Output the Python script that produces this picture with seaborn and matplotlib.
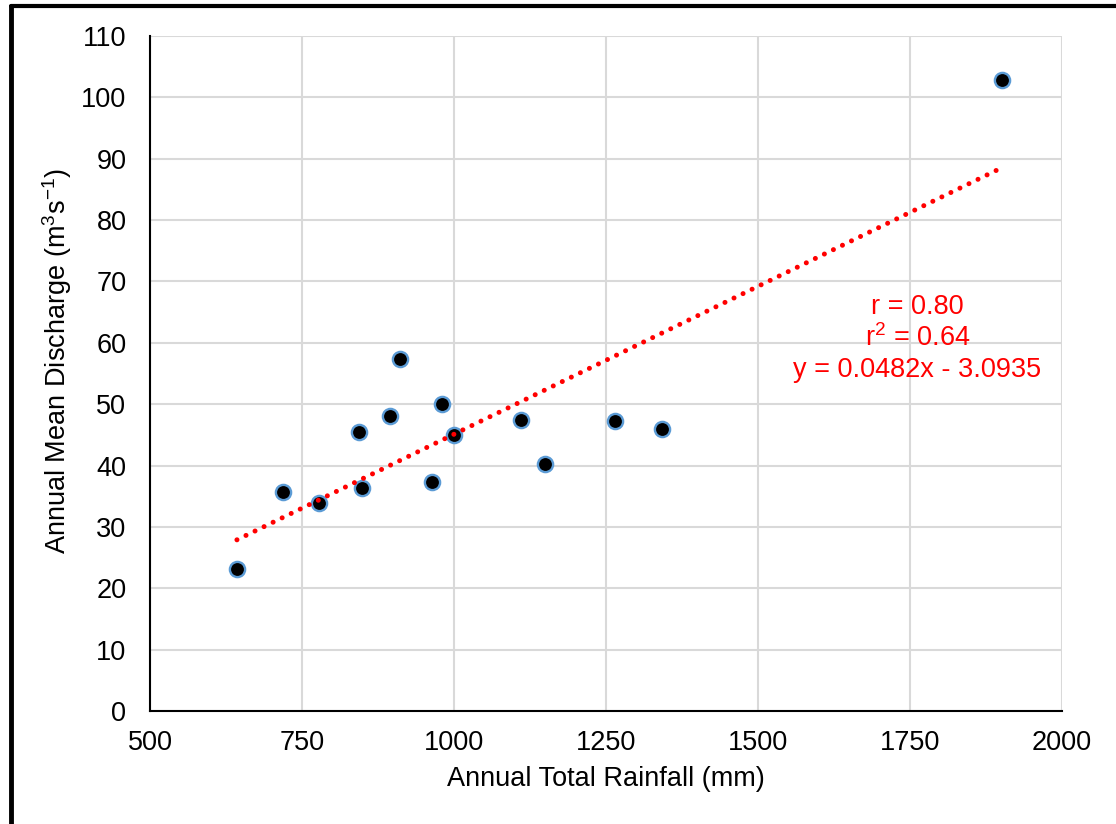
import numpy as np
import pandas as pd
import matplotlib
matplotlib.use("Agg")
import matplotlib.pyplot as plt
from matplotlib.lines import Line2D
import seaborn as sns

rainfall = [643, 718, 778, 844, 848, 895, 912, 964, 981, 1000,
            1110, 1150, 1265, 1342, 1901]
discharge = [23.2, 35.7, 33.9, 45.5, 36.4, 48.0, 57.4, 37.3, 50.1, 44.9,
             47.4, 40.3, 47.3, 46.0, 102.8]

slope = 0.0482
intercept = -3.0935
r_value = 0.80
r2_value = 0.64

x_ticks = [500, 750, 1000, 1250, 1500, 1750, 2000]
y_ticks = list(range(0, 111, 10))

df = pd.DataFrame({"rainfall": rainfall, "discharge": discharge})

sns.set_theme(style="white")
plt.rcParams["font.family"] = ["Liberation Sans", "DejaVu Sans"]
plt.rcParams["mathtext.fontset"] = "custom"
plt.rcParams["mathtext.rm"] = "Liberation Sans"
plt.rcParams["mathtext.default"] = "regular"

FS = 19.5

fig = plt.figure(figsize=(11.16, 8.24), dpi=100)
ax = fig.add_axes([0.1344, 0.1371, 0.9516 - 0.1344, 0.9563 - 0.1371])

ax.set_xlim(500, 2000)
ax.set_ylim(0, 110)
ax.set_xticks(x_ticks)
ax.set_yticks(y_ticks)
ax.grid(True, color="#d9d9d9", linewidth=1.5)
ax.set_axisbelow(True)

# trend line over data range
xs = np.array([min(rainfall), max(rainfall)])
ax.plot(xs, slope * xs + intercept, color="red", linewidth=3.6,
        linestyle=(0, (0.01, 2.0)), dash_capstyle="round", zorder=3)

sns.scatterplot(data=df, x="rainfall", y="discharge", ax=ax, s=120,
                color="black", edgecolor="#5b9bd5", linewidth=1.7, zorder=2)

for side in ["top", "right"]:
    ax.spines[side].set_visible(False)
for side in ["left", "bottom"]:
    ax.spines[side].set_color("black")
    ax.spines[side].set_linewidth(1.5)

ax.tick_params(axis="y", labelsize=FS, colors="black", length=0, pad=17)
ax.tick_params(axis="x", labelsize=FS, colors="black", length=0, pad=14)
ax.set_xlabel("Annual Total Rainfall (mm)", fontsize=FS, color="black", labelpad=7)
ax.set_ylabel("Annual Mean Discharge (m$^{3}$s$^{-1}$)", fontsize=FS,
              color="black")
ax.yaxis.set_label_coords(-0.083, 0.519)

tx = 1762
ax.text(tx, 65.8, f"r = {r_value:.2f}", color="red", fontsize=FS,
        ha="center", va="center")
ax.text(tx, 60.8, f"r$^{{2}}$ = {r2_value:.2f}", color="red", fontsize=FS,
        ha="center", va="center")
ax.text(tx, 55.6, f"y = {slope}x - {abs(intercept)}", color="red",
        fontsize=FS, ha="center", va="center")

# outer frame (left and top only visible)
fig.add_artist(Line2D([0.0095, 0.0095], [0, 0.9925], transform=fig.transFigure,
                      color="black", linewidth=3.5))
fig.add_artist(Line2D([0.0095, 1.0], [0.9925, 0.9925], transform=fig.transFigure,
                      color="black", linewidth=3))

fig.savefig("out.png", dpi=100)
